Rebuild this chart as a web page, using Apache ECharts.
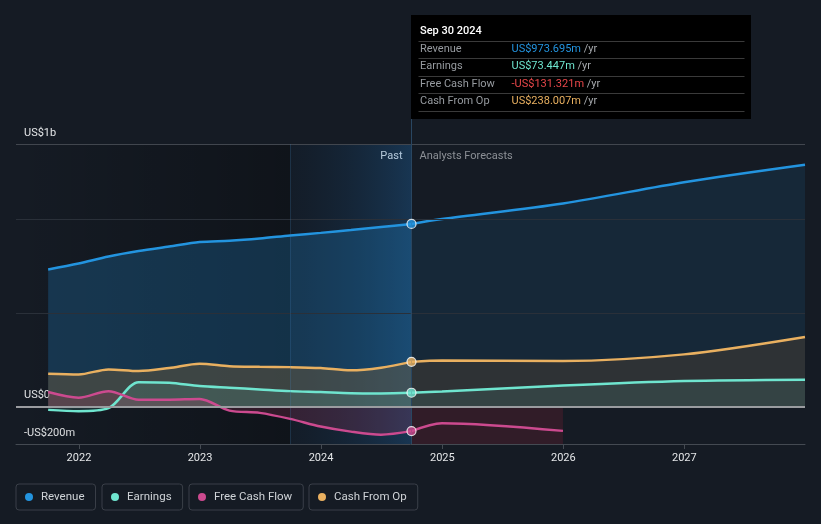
<!DOCTYPE html>
<html><head><meta charset="utf-8">
<script src="https://cdn.jsdelivr.net/npm/echarts@6/dist/echarts.min.js"></script>
<style>html,body{margin:0;padding:0;background:#151b24;}#c{width:821px;height:524px;}</style>
</head><body><div id="c"></div>
<script>
// ---------- data ----------
const pastDates = ['2021-09-30','2021-12-31','2022-03-31','2022-06-30','2022-09-30','2022-12-31','2023-03-31','2023-06-30','2023-09-30','2023-12-31','2024-03-31','2024-06-30','2024-09-30'];
const forecastDates = ['2024-09-30','2024-12-31','2025-12-31','2026-12-31','2027-12-31'];
const fcfForecastDates = ['2024-09-30','2024-12-31','2025-12-31'];

const revenuePast = [731, 763, 800, 829, 853, 877, 884, 896, 912, 926, 941, 957, 973.695];
const revenueForecast = [973.695, 1000, 1083, 1196, 1289];
const earningsPast = [-18, -25, -9, 130, 127, 109, 100, 91, 82, 77, 71, 70, 73.447];
const earningsForecast = [73.447, 80, 112, 136, 143];
const fcfPast = [77, 47, 82, 36, 36, 40, -22, -34, -66, -107, -134, -150, -131.321];
const fcfForecast = [-131.321, -89, -130];
const cfoPast = [175, 171, 198, 189, 205, 228, 215, 212, 210, 205, 193, 207, 238.007];
const cfoForecast = [238.007, 245, 243, 278, 371];

const seriesNames = ['Revenue', 'Earnings', 'Free Cash Flow', 'Cash From Op'];
const yearTicks = [2022, 2023, 2024, 2025, 2026, 2027];
const yLabelValues = [-200, 0, 1400];
const yLabelTexts = ['-US$200m', 'US$0', 'US$1b'];
const gridValues = [500, 1000, 1400];
const axisMin = '2021-06-25';
const axisMax = '2027-12-31';
const bandStart = '2023-09-30';
const nowDate = '2024-09-30';
const tooltipTitle = 'Sep 30 2024';

// ---------- helpers / styling ----------
const ts = s => +new Date(s + 'T00:00:00');
const FONT = 'Roboto, "Noto Sans", sans-serif';
const C = { rev: '#2394df', earn: '#6fe5cf', fcf: '#cc4a8f', cfo: '#e9b060' };
const zip = (d, v) => d.map((x, i) => [ts(x), v[i]]);
const yearValues = yearTicks.map(y => +new Date(y, 0, 1));

const chart = echarts.init(document.getElementById('c'), null, { renderer: 'canvas' });

function lineSeries(name, color, dates, vals, areaColor, extra) {
  return Object.assign({
    name, type: 'line', data: zip(dates, vals), smooth: 0.3,
    symbol: 'none', color: color, itemStyle: { color: color },
    lineStyle: { color: color, width: 2.5 },
    areaStyle: areaColor ? { color: areaColor, opacity: 1 } : undefined,
    z: 2, silent: true
  }, extra || {});
}

const legendLefts = [16, 102, 189, 309];
const legends = seriesNames.map((n, i) => ({
  data: [n], left: legendLefts[i], top: 484, orient: 'horizontal',
  icon: 'circle', itemWidth: 14, itemHeight: 8,
  textStyle: { color: '#cfd3d7', fontSize: 11.5, fontFamily: FONT },
  borderColor: '#3a3f48', borderWidth: 1, borderRadius: 3,
  padding: [7, 11, 7, 9], selectedMode: false
}));

const option = {
  animation: false,
  backgroundColor: '#151b24',
  textStyle: { fontFamily: FONT },
  grid: { left: 16, right: 16, top: 144, bottom: 80, containLabel: false },
  legend: legends,
  xAxis: {
    type: 'value', min: ts(axisMin), max: ts(axisMax), scale: true,
    axisLine: { onZero: false, lineStyle: { color: '#444a52', width: 1 } },
    axisTick: { show: true, length: 5, lineStyle: { color: '#444a52' }, customValues: yearValues },
    axisLabel: { color: '#e4e6e8', fontSize: 11, fontFamily: FONT, margin: 9,
      customValues: yearValues,
      formatter: v => String(new Date(v).getFullYear()) },
    splitLine: { show: false }
  },
  yAxis: {
    type: 'value', min: -200, max: 1400, interval: 200,
    axisLine: { show: false }, axisTick: { show: false }, splitLine: { show: false },
    axisLabel: {
      inside: true, margin: 8, color: '#e4e6e8', fontSize: 11, fontFamily: FONT,
      verticalAlign: 'bottom', lineHeight: 22, align: 'left',
      formatter: v => { const i = yLabelValues.indexOf(v); return i >= 0 ? yLabelTexts[i] : ''; }
    }
  },
  series: [
    {
      name: '_bg', type: 'line', data: zip(pastDates, revenuePast), symbol: 'none',
      lineStyle: { opacity: 0 }, silent: true, z: 1,
      markArea: {
        silent: true,
        data: [
          [{ xAxis: ts(axisMin), itemStyle: { color: new echarts.graphic.LinearGradient(0, 0, 1, 0, [
              { offset: 0, color: 'rgba(0,0,0,0)' }, { offset: 1, color: 'rgba(0,0,0,0.28)' }]) } },
           { xAxis: ts(bandStart) }],
          [{ xAxis: ts(bandStart), itemStyle: { color: new echarts.graphic.LinearGradient(0, 0, 1, 0, [
              { offset: 0, color: 'rgba(10,40,70,0.12)' }, { offset: 1, color: 'rgba(30,110,180,0.32)' }]) } },
           { xAxis: ts(nowDate) }]
        ]
      },
      markLine: {
        silent: true, symbol: 'none', label: { show: false },
        data: gridValues.map(v => ({ yAxis: v, lineStyle: { color: v === 1400 ? '#41464e' : '#2a3039', width: 1, type: 'solid' } }))
          .concat([
            { xAxis: ts(bandStart), lineStyle: { color: 'rgba(70,130,190,0.22)', width: 1, type: 'solid' } },
            { xAxis: ts(nowDate), lineStyle: { color: '#294661', width: 1, type: 'solid' } }
          ])
      }
    },
    lineSeries('Revenue', C.rev, pastDates, revenuePast, 'rgba(35,148,223,0.24)'),
    lineSeries('Revenue', C.rev, forecastDates, revenueForecast, 'rgba(35,148,223,0.11)'),
    lineSeries('Cash From Op', C.cfo, pastDates, cfoPast, 'rgba(110,90,60,0.45)'),
    lineSeries('Cash From Op', C.cfo, forecastDates, cfoForecast, 'rgba(70,60,50,0.5)'),
    lineSeries('Earnings', C.earn, pastDates, earningsPast, 'rgba(111,229,207,0.12)'),
    lineSeries('Earnings', C.earn, forecastDates, earningsForecast, 'rgba(111,229,207,0.10)'),
    lineSeries('Free Cash Flow', C.fcf, pastDates, fcfPast, 'rgba(204,60,110,0.18)'),
    lineSeries('Free Cash Flow', C.fcf, fcfForecastDates, fcfForecast, null, {
      markArea: { silent: true, itemStyle: { color: 'rgba(200,40,65,0.16)' },
        data: [[{ xAxis: ts(nowDate), yAxis: 0 }, { xAxis: ts(fcfForecastDates[fcfForecastDates.length - 1]), yAxis: -200 }]] }
    }),
    {
      name: '_zero', type: 'line', data: zip(pastDates, revenuePast), symbol: 'none',
      lineStyle: { opacity: 0 }, silent: true, z: 3,
      markLine: { silent: true, symbol: 'none', label: { show: false },
        data: [{ yAxis: 0, lineStyle: { color: '#9a9ca0', width: 2, type: 'solid' } }] }
    },
    {
      name: '_markers', type: 'scatter', z: 10, silent: true, symbolSize: 9,
      data: [
        { value: [ts(nowDate), revenuePast[revenuePast.length - 1]], itemStyle: { color: C.rev } },
        { value: [ts(nowDate), earningsPast[earningsPast.length - 1]], itemStyle: { color: C.earn } },
        { value: [ts(nowDate), fcfPast[fcfPast.length - 1]], itemStyle: { color: C.fcf } },
        { value: [ts(nowDate), cfoPast[cfoPast.length - 1]], itemStyle: { color: C.cfo } }
      ],
      itemStyle: { borderColor: '#ffffff', borderWidth: 1.2 }
    }
  ]
};
chart.setOption(option);

// ---------- tooltip-like panel and past/forecast captions ----------
const pNow = chart.convertToPixel({ xAxisIndex: 0, yAxisIndex: 0 }, [ts(nowDate), 1400]);
const xNow = Math.round(pNow[0]) + 0.5;
const gridTop = pNow[1];
const fmt = v => (v < 0 ? '-US$' : 'US$') + Math.abs(v).toFixed(3) + 'm';
const tipValues = [revenuePast, earningsPast, fcfPast, cfoPast].map(a => a[a.length - 1]);
const tipColors = [C.rev, C.earn, '#e8474a', C.cfo];
const boxTop = 15, boxW = 340, boxH = 104;
const g = [
  { type: 'rect', shape: { x: xNow - 0.5, y: boxTop, width: boxW, height: boxH }, style: { fill: '#000000' }, silent: true },
  { type: 'line', shape: { x1: xNow, y1: boxTop + boxH, x2: xNow, y2: gridTop }, style: { stroke: '#294661', lineWidth: 1 }, silent: true },
  { type: 'text', x: xNow + 8.5, y: boxTop + 16, style: { text: tooltipTitle, fill: '#ffffff', font: '500 11px ' + FONT, verticalAlign: 'middle', align: 'left' } }
];
[26, 43, 61, 78, 96].forEach(dy => g.push({ type: 'line', shape: { x1: xNow + 7, y1: boxTop + dy + 0.5, x2: xNow + 333, y2: boxTop + dy + 0.5 }, style: { stroke: '#3a3a3a', lineWidth: 1 }, silent: true }));
const rowY = [34.3, 51.7, 69.3, 86];
seriesNames.forEach((n, i) => {
  g.push({ type: 'text', x: xNow + 8.5, y: boxTop + rowY[i], style: { text: n, fill: '#979ba0', font: '11px ' + FONT, verticalAlign: 'middle', align: 'left' } });
  g.push({ type: 'text', x: xNow + 100, y: boxTop + rowY[i], style: {
    text: '{v|' + fmt(tipValues[i]) + '} {u|/yr}', verticalAlign: 'middle', align: 'left', font: '11px ' + FONT,
    rich: { v: { fill: tipColors[i], color: tipColors[i], fontSize: 11, fontFamily: FONT }, u: { fill: '#a6a9ad', color: '#a6a9ad', fontSize: 11, fontFamily: FONT } } } });
});
g.push({ type: 'text', x: xNow - 9, y: gridTop + 12, style: { text: 'Past', fill: '#f0f0f0', font: '11px ' + FONT, verticalAlign: 'middle', align: 'right' } });
g.push({ type: 'text', x: xNow + 8, y: gridTop + 12, style: { text: 'Analysts Forecasts', fill: '#8c9096', font: '11px ' + FONT, verticalAlign: 'middle', align: 'left' } });
chart.setOption({ graphic: { elements: g } });
</script>
</body></html>
